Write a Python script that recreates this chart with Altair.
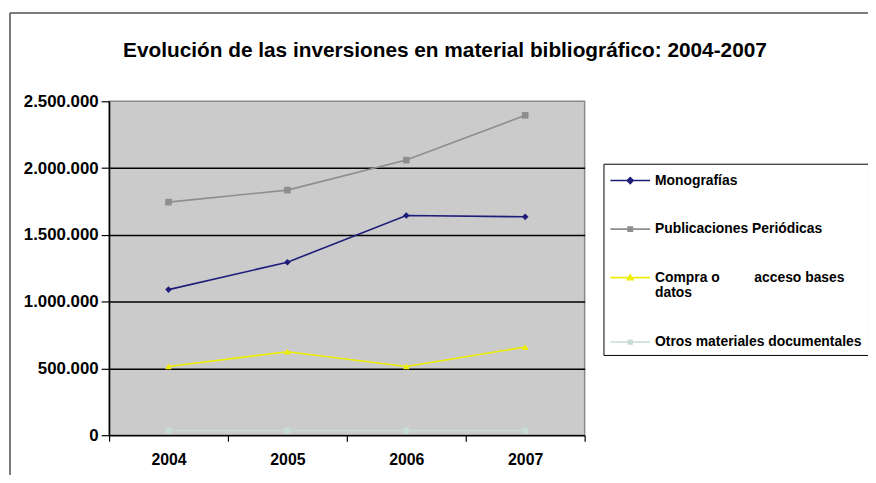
import altair as alt
import pandas as pd

# ---- data ----
years = [2004, 2005, 2006, 2007]
series = ["Monografías", "Publicaciones Periódicas",
          "Compra o acceso bases datos", "Otros materiales documentales"]
monografias = [1090000, 1295000, 1645000, 1635000]
publicaciones = [1745000, 1835000, 2060000, 2395000]
compra = [515000, 625000, 515000, 660000]
otros = [35000, 35000, 35000, 35000]

colors = ["#1E1E7A", "#8E8E8E", "#EEEE00", "#C6DCD8"]
shapes = ["diamond", "square", "triangle-up", "circle"]
legend_shapes = [
    "M-1,0H3M0.7,0L1,-0.3L1.3,0L1,0.3Z",
    "M-1,0H3M0.78,-0.2H1.22V0.2H0.78Z",
    "M-1,0H3M0.72,0.2L1,-0.28L1.28,0.2Z",
    "M-1,0H3M0.8,-0.18H1.2V0.18H0.8Z",
]
y_ticks = [0, 500000, 1000000, 1500000, 2000000, 2500000]
x_boundaries = [2003.5, 2004.5, 2005.5, 2006.5, 2007.5]

rows = []
for name, vals in zip(series, [monografias, publicaciones, compra, otros]):
    for yr, v in zip(years, vals):
        rows.append({"serie": name, "anio": yr, "valor": v})
df = pd.DataFrame(rows)

FONT = "Liberation Sans"

x_enc = alt.X(
    "anio:Q",
    scale=alt.Scale(domain=[2003.5, 2007.5], nice=False, zero=False),
    axis=alt.Axis(
        values=x_boundaries,
        labelExpr="datum.value < 2007 ? '' + (datum.value + 0.5) : ''",
        labelOffset=60,
        labelFlush=False,
        labelOverlap=False,
        labelFont=FONT, labelFontSize=16, labelFontWeight="bold", labelColor="black",
        labelPadding=11,
        tickColor="black", tickSize=6, tickWidth=1.2,
        domainColor="black", domainWidth=1.5,
        grid=False, title=None,
    ),
)
y_enc = alt.Y(
    "valor:Q",
    scale=alt.Scale(domain=[0, 2500000], nice=False),
    axis=alt.Axis(
        values=y_ticks,
        labelExpr="replace(replace(format(datum.value, ','), ',', '.'), ',', '.')",
        labelFont=FONT, labelFontSize=17, labelFontWeight="bold", labelColor="black",
        labelPadding=3,
        tickColor="black", tickSize=8, tickWidth=1.2,
        domainColor="black", domainWidth=1.5,
        grid=True,
        gridColor={"condition": {"test": "datum.value >= 2500000 || datum.value == 0",
                                 "value": "transparent"}, "value": "black"},
        gridWidth=1.6,
        title=None,
    ),
)

nb = "\u00a0"
compra_label = "Compra o" + nb * 9 + "acceso bases"

legend_opts = dict(
    title=None,
    orient="none", legendX=499, legendY=63,
    strokeColor="black", fillColor="white", padding=6,
    symbolSize=400, symbolStrokeWidth=1.6, symbolOpacity=1,
    labelFont=FONT, labelFontSize=14, labelFontWeight="bold", labelColor="black",
    labelLimit=400, labelOffset=24,
    rowPadding=31,
    labelExpr="datum.label == 'Compra o acceso bases datos' ? ['" + compra_label + "', 'datos'] : datum.label",
)

color_scale = alt.Scale(domain=series, range=colors)


def color_enc():
    return alt.Color("serie:N", scale=color_scale, sort=series,
                     legend=alt.Legend(**legend_opts))


lines = alt.Chart(df).mark_line(strokeWidth=1.6).encode(
    x=x_enc, y=y_enc, color=color_enc(),
)

point_layers = []
for name, shp in zip(series, shapes):
    point_layers.append(
        alt.Chart(df).transform_filter(alt.datum.serie == name)
        .mark_point(filled=True, opacity=1, size=45, shape=shp)
        .encode(x="anio:Q", y="valor:Q", color=color_enc())
    )

legend_layer = alt.Chart(df).mark_point(filled=False, opacity=0, strokeWidth=1.6).encode(
    x="anio:Q", y="valor:Q",
    color=color_enc(),
    shape=alt.Shape("serie:N", scale=alt.Scale(domain=series, range=legend_shapes),
                    sort=series, legend=alt.Legend(**legend_opts)),
)

frame_top = alt.Chart(df).mark_rule(color="#7A7A7A", strokeWidth=1).encode(
    x=alt.value(-100), x2=alt.value(800), y=alt.value(-89)
)
frame_left = alt.Chart(df).mark_rule(color="#7A7A7A", strokeWidth=1).encode(
    x=alt.value(-100), y=alt.value(-89), y2=alt.value(400)
)

chart = alt.layer(frame_top, frame_left, lines, *point_layers, legend_layer).properties(
    width=480, height=337,
    background="white",
    autosize=alt.AutoSizeParams(type="none"),
    padding={"left": 102, "top": 92, "right": 286, "bottom": 38},
    title=alt.TitleParams(
        "Evolución de las inversiones en material bibliográfico: 2004-2007",
        font=FONT, fontSize=21, fontWeight="bold", color="black",
        anchor="middle", frame="group", dx=99, offset=-49,
    ),
).configure_view(
    fill="#CBCBCB", stroke="#8A8A8A", strokeWidth=1.5
)

chart.save("out.html", embed_options={"renderer": "svg", "actions": False})
